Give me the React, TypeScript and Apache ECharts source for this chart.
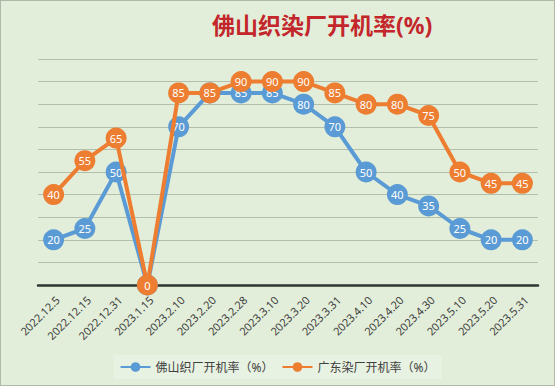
import React, { useEffect, useRef } from "react";
import * as echarts from "echarts";

const categories = [
  "2022.12.5", "2022.12.15", "2022.12.31", "2023.1.15", "2023.2.10", "2023.2.20",
  "2023.2.28", "2023.3.10", "2023.3.20", "2023.3.31", "2023.4.10", "2023.4.20",
  "2023.4.30", "2023.5.10", "2023.5.20", "2023.5.31",
];
const foshanWeaving = [20, 25, 50, 0, 70, 85, 85, 85, 80, 70, 50, 40, 35, 25, 20, 20];
const guangdongDyeing = [40, 55, 65, 0, 85, 85, 90, 90, 90, 85, 80, 80, 75, 50, 45, 45];
const seriesNames = ["佛山织厂开机率（%）", "广东染厂开机率（%）"];
const titleText = "佛山织染厂开机率(%)";

export default function App() {
  const ref = useRef<HTMLDivElement>(null);
  useEffect(() => {
    document.body.style.margin = "0";
    const chart = echarts.init(ref.current!, null, { renderer: "svg" });
    const font = "'Noto Sans', 'Noto Sans CJK SC', sans-serif";
    const mk = (name: string, data: number[], color: string, z: number) => ({
      name,
      type: "line",
      data,
      z,
      symbol: "circle",
      symbolSize: 21,
      lineStyle: { color, width: 4 },
      itemStyle: { color },
      label: {
        show: true,
        position: "inside",
        color: "#ffffff",
        fontSize: 11,
        lineHeight: 11,
        fontFamily: font,
      },
    });
    chart.setOption({
      animation: false,
      backgroundColor: "#e2eed9",
      title: {
        text: titleText,
        left: 206,
        top: 7,
        textStyle: { color: "#c3262b", fontSize: 23, fontWeight: "bold", fontFamily: font },
      },
      legend: {
        bottom: 6,
        left: "center",
        itemWidth: 30,
        itemHeight: 12,
        itemGap: 8,
        textStyle: { color: "#404040", fontSize: 12, fontFamily: font },
        backgroundColor: "#e8f2e2",
        padding: [6, 6],
        data: seriesNames,
      },
      grid: { left: 37, right: 16, top: 58, bottom: 100 },
      xAxis: {
        type: "category",
        data: categories,
        boundaryGap: true,
        axisLine: { lineStyle: { color: "#2f3530", width: 2.5 } },
        axisTick: { show: false },
        axisLabel: {
          rotate: 45,
          color: "#404040",
          fontSize: 11,
          fontFamily: font,
          margin: 9,
          interval: 0,
          verticalAlign: "top",
        },
      },
      yAxis: {
        type: "value",
        min: 0,
        max: 100,
        interval: 10,
        axisLabel: { show: false },
        axisLine: { show: false },
        axisTick: { show: false },
        splitLine: { lineStyle: { color: "#b3bfad", width: 1 } },
      },
      series: [
        mk(seriesNames[0], foshanWeaving, "#5b9bd5", 2),
        mk(seriesNames[1], guangdongDyeing, "#ed7d31", 3),
      ],
    });
    return () => chart.dispose();
  }, []);
  return (
    <div
      ref={ref}
      style={{ width: 555, height: 386, boxSizing: "border-box", border: "1px solid #b0b8ac" }}
    />
  );
}
